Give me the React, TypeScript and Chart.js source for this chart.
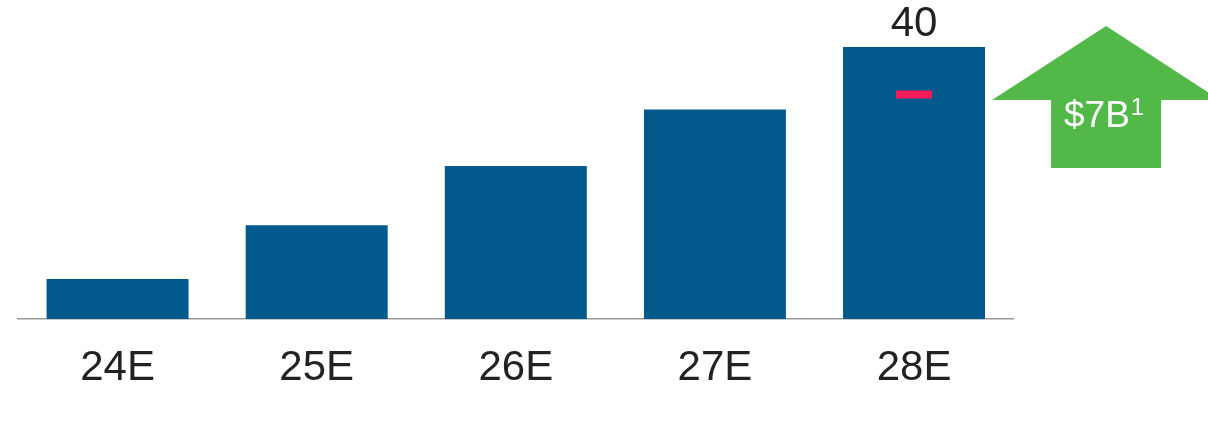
import { useEffect, useRef } from 'react';
import { Chart, registerables } from 'chart.js';

Chart.register(...registerables);

const categories = ['24E', '25E', '26E', '27E', '28E'];
const barValues = [5.9, 13.8, 22.5, 30.8, 40];
const targetValues = [null, null, null, null, 33];
const valueLabelShown = [false, false, false, false, true];
const arrowLabel = '$7B';
const arrowSuperscript = '1';

const FONT = '"Liberation Sans", Arial, Helvetica, sans-serif';
const BAR_COLOR = '#02598b';
const TARGET_COLOR = '#f41b5a';
const ARROW_COLOR = '#52b948';
const TEXT_COLOR = '#222222';

export default function App() {
  const ref = useRef<HTMLCanvasElement>(null);

  useEffect(() => {
    if (!ref.current) return;

    const valueLabelPlugin = {
      id: 'valueLabels',
      afterDatasetsDraw(chart: any) {
        const idx = chart.data.datasets.findIndex((d: any) => d.type === 'bar');
        const meta = chart.getDatasetMeta(idx);
        const ctx = chart.ctx;
        ctx.save();
        ctx.font = `42px ${FONT}`;
        ctx.fillStyle = TEXT_COLOR;
        ctx.textAlign = 'center';
        ctx.textBaseline = 'alphabetic';
        meta.data.forEach((bar: any, i: number) => {
          if (!valueLabelShown[i]) return;
          ctx.fillText(String(barValues[i]), bar.x, bar.y - 11);
        });
        ctx.restore();
      },
    };

    const arrowPlugin = {
      id: 'growthArrow',
      afterDraw(chart: any) {
        const ctx = chart.ctx;
        const area = chart.chartArea;
        const cx = area.right + 92.5;
        const tipY = 26;
        const wingY = 100;
        const wingHalf = 114;
        const shaftHalf = 55;
        const bottomY = 168;
        ctx.save();
        ctx.fillStyle = ARROW_COLOR;
        ctx.beginPath();
        ctx.moveTo(cx, tipY);
        ctx.lineTo(cx + wingHalf, wingY);
        ctx.lineTo(cx + shaftHalf, wingY);
        ctx.lineTo(cx + shaftHalf, bottomY);
        ctx.lineTo(cx - shaftHalf, bottomY);
        ctx.lineTo(cx - shaftHalf, wingY);
        ctx.lineTo(cx - wingHalf, wingY);
        ctx.closePath();
        ctx.fill();

        ctx.fillStyle = '#ffffff';
        ctx.textBaseline = 'alphabetic';
        ctx.textAlign = 'left';
        ctx.font = `37px ${FONT}`;
        const w1 = ctx.measureText(arrowLabel).width;
        ctx.font = `24px ${FONT}`;
        const w2 = ctx.measureText(arrowSuperscript).width;
        const total = w1 + 1 + w2;
        const startX = cx - 2 - total / 2;
        ctx.font = `37px ${FONT}`;
        ctx.fillText(arrowLabel, startX, 127);
        ctx.font = `24px ${FONT}`;
        ctx.fillText(arrowSuperscript, startX + w1 + 1, 115);
        ctx.restore();
      },
    };

    const chart = new Chart(ref.current, {
      type: 'bar',
      data: {
        labels: categories,
        datasets: [
          {
            type: 'line',
            data: targetValues as any,
            showLine: false,
            pointStyle: 'line',
            pointRadius: 18,
            pointHoverRadius: 18,
            pointBorderWidth: 8,
            pointBorderColor: TARGET_COLOR,
            pointBackgroundColor: TARGET_COLOR,
            order: 0,
          } as any,
          {
            type: 'bar',
            data: barValues,
            backgroundColor: BAR_COLOR,
            borderWidth: 0,
            categoryPercentage: 1,
            barPercentage: 0.713,
            order: 1,
          },
        ],
      },
      options: {
        animation: false,
        responsive: true,
        maintainAspectRatio: false,
        layout: { autoPadding: false, padding: { top: 47, left: 18, right: 194.4, bottom: 0 } },
        plugins: {
          legend: { display: false },
          tooltip: { enabled: false },
        },
        scales: {
          x: {
            grid: { display: false, drawTicks: false },
            border: { display: true, color: '#9a9a9a', width: 1.5 },
            ticks: {
              font: { family: FONT, size: 42 },
              color: TEXT_COLOR,
              padding: 24,
              maxRotation: 0,
              autoSkip: false,
            },
            afterFit(scale: any) {
              scale.height = 105;
              scale.paddingLeft = 0;
              scale.paddingRight = 0;
            },
          },
          y: {
            display: false,
            min: 0,
            max: 40,
          },
        },
      },
      plugins: [valueLabelPlugin, arrowPlugin],
    });

    return () => chart.destroy();
  }, []);

  return (
    <div style={{ position: 'fixed', left: 0, top: 0, width: 1208, height: 424, background: '#ffffff' }}>
      <canvas ref={ref} />
    </div>
  );
}
